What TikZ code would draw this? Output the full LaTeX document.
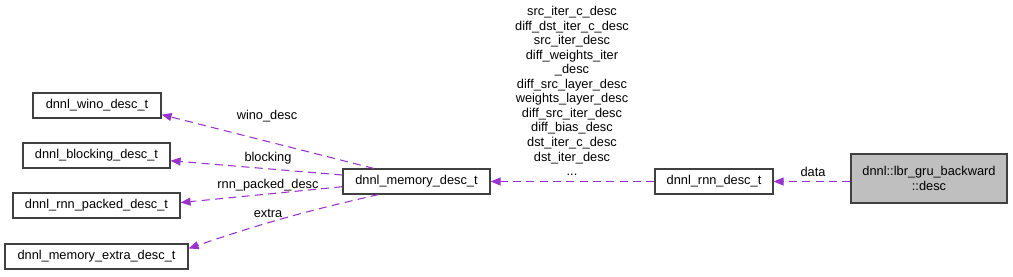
\documentclass[tikz,border=0pt]{standalone}
\usepackage{fontspec}
\setmainfont{Liberation Sans}
\usepackage{tikz}
\usetikzlibrary{arrows.meta,positioning,calc}
\definecolor{linkcol}{HTML}{9A32CD}
\definecolor{boxline}{HTML}{404040}
\definecolor{curfill}{HTML}{BFBFBF}
\newcommand{\pxu}{0.75pt}

\begin{document}
\begin{tikzpicture}[
  x=0.75pt, y=-0.75pt,
  box/.style={draw=boxline, line width=0.9pt, align=center, inner sep=0pt, minimum height=25*\pxu, font=\fontsize{9.6}{10.9}\selectfont},
  lbl/.style={inner sep=0pt, align=center, font=\fontsize{9.6}{10.9}\selectfont},
  link/.style={draw=linkcol, line width=0.8pt, dash pattern=on 6pt off 4pt, -{Triangle[length=7.5pt, width=6pt]}},
  >=Latex
]
\useasboundingbox (0,0) rectangle (1013,276);

% left column
\node[box, minimum width=128*\pxu] (wino) at (97,105.5) {dnnl\_wino\_desc\_t};
\node[box, minimum width=147*\pxu] (blk) at (96.5,155.5) {dnnl\_blocking\_desc\_t};
\node[box, minimum width=167*\pxu] (pck) at (96.5,205.5) {dnnl\_rnn\_packed\_desc\_t};
\node[box, minimum width=183*\pxu] (ext) at (96.5,256.5) {dnnl\_memory\_extra\_desc\_t};

% middle and right
\node[box, minimum width=147*\pxu] (mem) at (416.5,181.5) {dnnl\_memory\_desc\_t};
\node[box, minimum width=118*\pxu] (rnn) at (714,181.5) {dnnl\_rnn\_desc\_t};
\node[box, fill=curfill, minimum width=156*\pxu, minimum height=49*\pxu] (cur) at (929,178.5) {dnnl::lbr\_gru\_backward\\::desc};

\draw[link] (cur.west |- rnn.east) -- (rnn.east);
\node[lbl] (data) at (813,172) {data};

\draw[link] (rnn.west) -- (mem.east);
\node[lbl, anchor=center] (fields) at (572,91) {src\_iter\_c\_desc\\diff\_dst\_iter\_c\_desc\\src\_iter\_desc\\diff\_weights\_iter\hspace*{15pt}\\\_desc\\diff\_src\_layer\_desc\\weights\_layer\_desc\\diff\_src\_iter\_desc\\diff\_bias\_desc\\dst\_iter\_c\_desc\\dst\_iter\_desc\\...};

\draw[link] (mem.163) -- (wino.-8);
\node[lbl] (wlbl) at (267,116) {wino\_desc};
\draw[link] (mem.175) -- (blk.-4);
\node[lbl] (blbl) at (268,158) {blocking};
\draw[link] (mem.184) -- (pck.2);
\node[lbl] (plbl) at (268,185) {rnn\_packed\_desc};
\draw[link] (mem.199) to[bend right=3] (ext.5);
\node[lbl] (elbl) at (268,213) {extra};
\end{tikzpicture}
\end{document}
